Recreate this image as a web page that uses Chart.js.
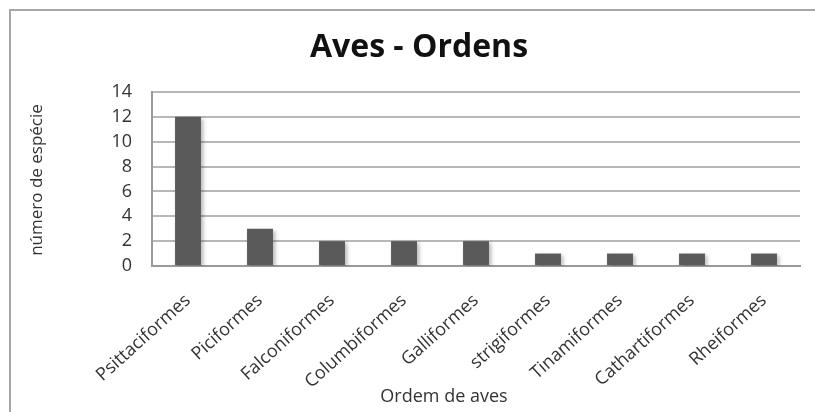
<!DOCTYPE html>
<html>
<head>
<meta charset="utf-8">
<script src="https://cdn.jsdelivr.net/npm/chart.js@4"></script>
<style>
    html, body { margin: 0; padding: 0; background: #fff; }
    #wrap { position: relative; width: 815px; height: 412px; overflow: hidden; }
    #frame { position: absolute; left: 9px; top: 9px; width: 830px; height: 430px; border: 2px solid #a6a6a6; }
    canvas { position: absolute; left: 0; top: 0; }
</style>
</head>
<body>
<div id="wrap">
    <div id="frame"></div>
    <canvas id="avesChart" width="815" height="412"></canvas>
</div>
<script>
// Data
const ordens = ["Psittaciformes", "Piciformes", "Falconiformes", "Columbiformes", "Galliformes",
                "strigiformes", "Tinamiformes", "Cathartiformes", "Rheiformes"];
const especies = [12, 3, 2, 2, 2, 1, 1, 1, 1];
const yTicks = [0, 2, 4, 6, 8, 10, 12, 14];

const textColor = '#333333';
const fontFamily = '"Open Sans", Lato, sans-serif';

// soft shadow behind the bars, like the spreadsheet original
const barShadow = {
    id: 'barShadow',
    beforeDatasetsDraw(chart) {
        const ctx = chart.ctx;
        ctx.save();
        ctx.shadowColor = 'rgba(0,0,0,0.3)';
        ctx.shadowBlur = 4;
        ctx.shadowOffsetX = 2;
        ctx.shadowOffsetY = 2;
    },
    afterDatasetsDraw(chart) {
        chart.ctx.restore();
    }
};

// titles drawn by hand so they sit where the original has them
const titles = {
    id: 'titles',
    afterDraw(chart) {
        const ctx = chart.ctx;
        ctx.save();
        ctx.textAlign = 'center';
        ctx.textBaseline = 'middle';
        ctx.fillStyle = '#111';
        ctx.font = 'bold 32px ' + fontFamily;
        ctx.fillText('Aves - Ordens', 419, 48);
        ctx.fillStyle = textColor;
        ctx.font = '18px ' + fontFamily;
        ctx.fillText('Ordem de aves', 444, 397);
        ctx.translate(37, 180);
        ctx.rotate(-Math.PI / 2);
        ctx.font = '17px ' + fontFamily;
        ctx.fillText('número de espécie', 0, 0);
        ctx.restore();
    }
};

const config = {
    type: 'bar',
    data: {
        labels: ordens,
        datasets: [{
            label: 'número de espécie',
            data: especies,
            backgroundColor: '#5a5a5a',
            borderWidth: 0,
            barPercentage: 0.72,
            categoryPercentage: 0.5
        }]
    },
    options: {
        responsive: false,
        animation: false,
        layout: { padding: { left: 0, right: 15, top: 92, bottom: 0 } },
        plugins: {
            legend: { display: false },
            tooltip: { enabled: false },
            title: { display: false }
        },
        scales: {
            x: {
                grid: { display: false, drawTicks: false },
                border: { display: true, color: '#9a9a9a', width: 2 },
                ticks: {
                    color: textColor,
                    font: { family: fontFamily, size: 18 },
                    minRotation: 42,
                    maxRotation: 42,
                    padding: 24
                },
                afterFit(scale) { scale.height = 412 - 266; }
            },
            y: {
                min: 0,
                max: 14,
                afterBuildTicks(scale) { scale.ticks = yTicks.map(v => ({ value: v })); },
                grid: { color: '#b8b8b8', lineWidth: 2, drawTicks: false },
                border: { display: true, color: '#9a9a9a', width: 2 },
                ticks: {
                    color: textColor,
                    font: { family: fontFamily, size: 18 },
                    autoSkip: false,
                    padding: 20
                },
                afterFit(scale) { scale.width = 152; }
            }
        }
    },
    plugins: [barShadow, titles]
};

new Chart(document.getElementById('avesChart'), config);
</script>
</body>
</html>
